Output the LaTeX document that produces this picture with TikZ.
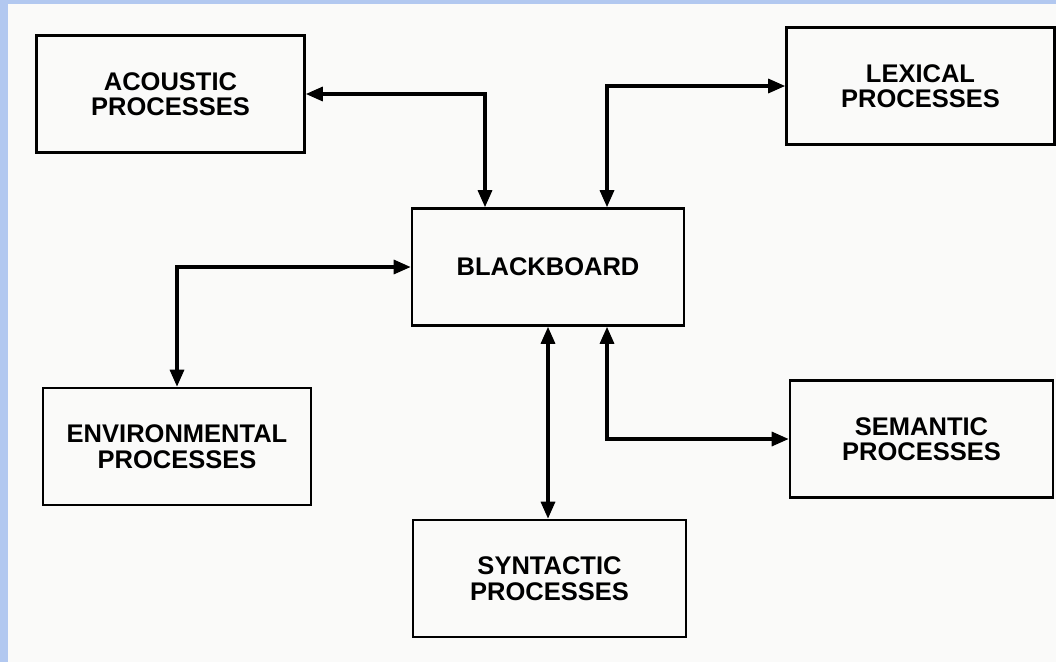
\documentclass[tikz,border=0pt]{standalone}
\usepackage{fontspec}
\setmainfont{Liberation Sans}
\usetikzlibrary{arrows.meta}
\definecolor{frameblue}{RGB}{178,200,240}
\definecolor{paper}{RGB}{250,250,249}
\begin{document}
\begin{tikzpicture}[x=1pt,y=-1pt,
    font=\fontsize{25.5}{25.5}\selectfont\bfseries,
    proc/.style={draw,line width=2.6pt,align=center,minimum width=268pt,minimum height=117pt,inner sep=0pt},
    link/.style={line width=3.2pt,{Triangle[length=17pt,width=14pt]}-{Triangle[length=17pt,width=14pt]}}]
  % page and frame
  \fill[frameblue] (0,0) rectangle (1056,662);
  \fill[paper] (8,4) rectangle (1056,662);
  \useasboundingbox (0,0) rectangle (1056,662);
  % boxes
  \node[proc] (acoustic) at (170.5,94) {ACOUSTIC\\PROCESSES};
  \node[proc] (lexical) at (920.5,86) {LEXICAL\\PROCESSES};
  \node[proc,minimum width=272pt] (blackboard) at (548,267) {BLACKBOARD};
  \node[proc] (environmental) at (177,446.5) {ENVIRONMENTAL\\PROCESSES};
  \node[proc,minimum width=263pt] (semantic) at (921.5,439) {SEMANTIC\\PROCESSES};
  \node[proc,minimum width=273pt] (syntactic) at (549.5,578.5) {SYNTACTIC\\PROCESSES};
  % links to the blackboard
  \draw[link] (acoustic.east) -| ([xshift=-63pt]blackboard.north);
  \draw[link] (lexical.west) -| ([xshift=59pt]blackboard.north);
  \draw[link] (blackboard.west) -| (environmental.north);
  \draw[link] (blackboard.south) -- (blackboard.south |- syntactic.north);
  \draw[link] ([xshift=59pt]blackboard.south) |- (semantic.west);
\end{tikzpicture}
\end{document}
